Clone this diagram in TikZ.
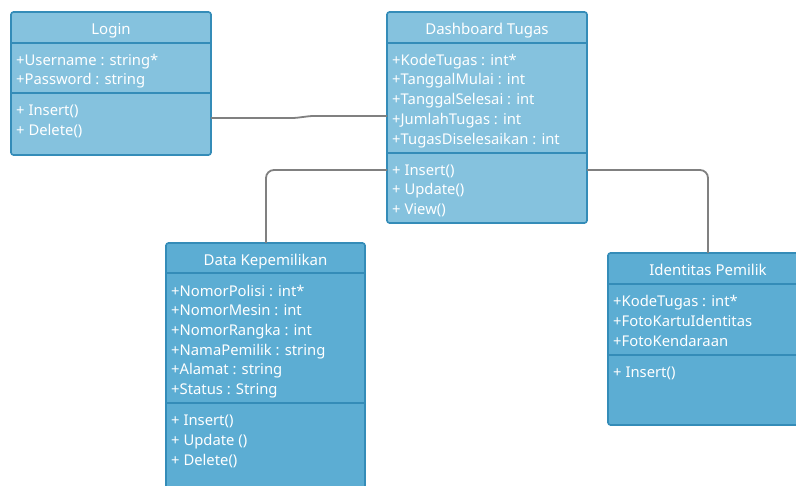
\documentclass[tikz,border=0pt]{standalone}
\usepackage{fontspec}
\setmainfont{Noto Sans}
\definecolor{umlborder}{RGB}{52,140,184}
\definecolor{umllight}{RGB}{133,194,222}
\definecolor{umldark}{RGB}{92,173,211}
\definecolor{linkgray}{RGB}{128,128,128}
\tikzset{
  classbox/.style={draw=umlborder, line width=1.6pt, rounded corners=2.5pt,
    anchor=north west, inner sep=0pt, outer sep=0pt},
  lightbox/.style={classbox, fill=umllight},
  darkbox/.style={classbox, fill=umldark},
  divider/.style={draw=umlborder, line width=1.6pt},
  member/.style={anchor=base west, text=white, inner sep=0pt,
    font=\fontsize{14.8}{16}\selectfont, yshift=-1.2pt},
  title/.style={anchor=base, text=white, inner sep=0pt,
    font=\fontsize{15}{16}\selectfont, yshift=-1.2pt},
  link/.style={draw=linkgray, line width=1.8pt, rounded corners=8pt}
}
\begin{document}
\begin{tikzpicture}[x=1pt,y=-1pt]
\useasboundingbox (0,0) rectangle (796,486);
\begin{scope}
\clip (0,0) rectangle (796,486);

% Login
\node[lightbox, minimum width=200pt, minimum height=143pt] (login) at (11,12) {};
\draw[divider] (11,43) -- (211,43);
\draw[divider] (11,93) -- (211,93);
\node[title] (loginT) at (111,33) {Login};
\node[member] (login1) at (16,64) {+Username : string*};
\node[member] (login2) at (16,83) {+Password : string};
\node[member] (login3) at (16,114) {+ Insert()};
\node[member] (login4) at (16,134) {+ Delete()};

% Dashboard Tugas
\node[lightbox, minimum width=200pt, minimum height=211pt] (dash) at (387,12) {};
\draw[divider] (387,43) -- (587,43);
\draw[divider] (387,153) -- (587,153);
\node[title] (dashT) at (487,33) {Dashboard Tugas};
\node[member] (dash1) at (392,64) {+KodeTugas : int*};
\node[member] (dash2) at (392,83) {+TanggalMulai : int};
\node[member] (dash3) at (392,103) {+TanggalSelesai : int};
\node[member] (dash4) at (392,123) {+JumlahTugas : int};
\node[member] (dash5) at (392,143) {+TugasDiselesaikan : int};
\node[member] (dash6) at (392,174) {+ Insert()};
\node[member] (dash7) at (392,193) {+ Update()};
\node[member] (dash8) at (392,213) {+ View()};

% Data Kepemilikan
\node[darkbox, minimum width=199pt, minimum height=260pt] (data) at (166,243) {};
\draw[divider] (166,273) -- (365,273);
\draw[divider] (166,403) -- (365,403);
\node[title] (dataT) at (265.5,264) {Data Kepemilikan};
\node[member] (data1) at (171,295) {+NomorPolisi : int*};
\node[member] (data2) at (171,314) {+NomorMesin : int};
\node[member] (data3) at (171,334) {+NomorRangka : int};
\node[member] (data4) at (171,354) {+NamaPemilik : string};
\node[member] (data5) at (171,373) {+Alamat : string};
\node[member] (data6) at (171,393) {+Status : String};
\node[member] (data7) at (171,424) {+ Insert()};
\node[member] (data8) at (171,444) {+ Update ()};
\node[member] (data9) at (171,464) {+ Delete()};

% Identitas Pemilik
\node[darkbox, minimum width=200pt, minimum height=172pt] (ident) at (608,253) {};
\draw[divider] (608,284) -- (808,284);
\draw[divider] (608,355) -- (808,355);
\node[title] (identT) at (708,274) {Identitas Pemilik};
\node[member] (ident1) at (613,305) {+KodeTugas : int*};
\node[member] (ident2) at (613,325) {+FotoKartuIdentitas};
\node[member] (ident3) at (613,345) {+FotoKendaraan};
\node[member] (ident4) at (613,376) {+ Insert()};
\end{scope}

% Associations
\draw[link, rounded corners=3pt] ([yshift=-106pt]login.north east) -- ++(84,0)
  -- ++(16,-2) -- ([yshift=-104pt]dash.north west);
\draw[link] ([yshift=-158pt]dash.north west) -| ([xshift=100pt]data.north west);
\draw[link] ([yshift=-158pt]dash.north east) -| ([xshift=100pt]ident.north west);
\end{tikzpicture}
\end{document}
